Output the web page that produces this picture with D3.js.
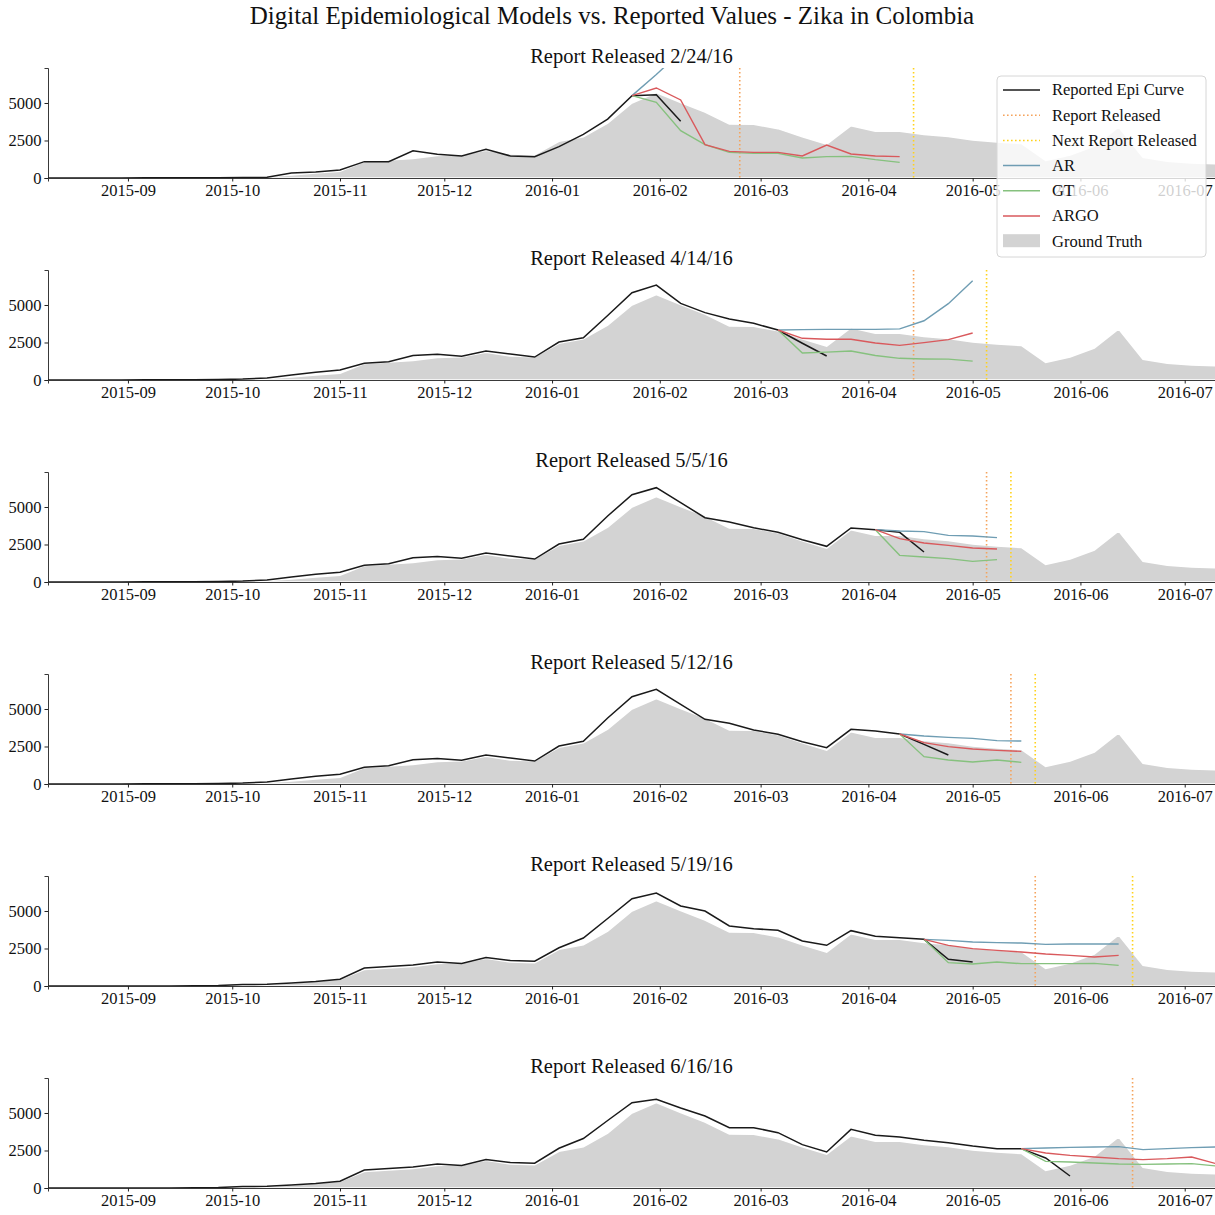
<!DOCTYPE html>
<html>
<head>
<meta charset="utf-8">
<script src="https://cdn.jsdelivr.net/npm/d3@7"></script>
<style>
  body { margin: 0; background: #fff; }
  svg { display: block; font-family: "Liberation Serif", "DejaVu Serif", serif; }
</style>
</head>
<body>
<svg id="chart" width="1215" height="1215"></svg>
<script>
// weekly series, first week starts 2015-08-09
const firstWeek = Date.UTC(2015, 7, 9);
const weekCount = 49;

const reportLabels = ["2/24/16", "4/14/16", "5/5/16", "5/12/16", "5/19/16", "6/16/16"];
const reportDates = ["2016-02-24", "2016-04-14", "2016-05-05", "2016-05-12", "2016-05-19", "2016-06-16"];
const nextReportDates = ["2016-04-14", "2016-05-05", "2016-05-12", "2016-05-19", "2016-06-16", null];

const groundTruth = [
  0, 0, 0, 0, 0, 0, 0, 20, 50, 100, 200, 330, 450, 1100, 1200, 1300, 1500, 1550, 1850, 1600,
  1550, 2450, 2750, 3650, 5000, 5700, 5030, 4400, 3600, 3580, 3290, 2750, 2250, 3490, 3120, 3120,
  2900, 2770, 2530, 2400, 2300, 1170, 1530, 2130, 3400, 1380, 1120, 1000, 950
];

// reported epi curve of each report, from week 0
const epiCurves = [
  [5, 5, 5, 5, 10, 10, 15, 20, 30, 50, 330, 400, 530, 1090, 1090, 1820, 1580, 1470, 1910, 1470,
   1420, 2090, 2910, 3930, 5490, 5555, 3780],
  [5, 5, 5, 5, 10, 10, 20, 30, 60, 130, 330, 510, 670, 1110, 1220, 1640, 1710, 1580, 1930, 1730,
   1530, 2530, 2820, 4300, 5820, 6330, 5110, 4490, 4066, 3777, 3333, 2450, 1600],
  [5, 5, 5, 5, 10, 10, 20, 30, 60, 130, 330, 510, 650, 1110, 1220, 1620, 1700, 1580, 1930, 1730,
   1530, 2530, 2850, 4400, 5822, 6289, 5289, 4289, 4000, 3622, 3311, 2822, 2378, 3600, 3489, 3311, 2000],
  [5, 5, 5, 5, 10, 10, 20, 30, 60, 130, 330, 510, 650, 1110, 1220, 1620, 1700, 1580, 1930, 1730,
   1530, 2530, 2850, 4400, 5822, 6311, 5311, 4311, 4044, 3600, 3311, 2822, 2422, 3644, 3533, 3333, 2644, 1933],
  [0, 0, 0, 0, 5, 5, 10, 30, 100, 110, 200, 300, 450, 1200, 1300, 1400, 1600, 1500, 1900, 1700,
   1650, 2550, 3200, 4500, 5822, 6200, 5333, 5000, 4000, 3822, 3711, 3000, 2711, 3689, 3311, 3222, 3111, 1778, 1600],
  [0, 0, 0, 0, 5, 5, 10, 30, 100, 110, 200, 300, 450, 1200, 1300, 1400, 1600, 1500, 1900, 1700,
   1650, 2650, 3300, 4500, 5689, 5911, 5333, 4800, 4022, 4022, 3689, 2889, 2400, 3911, 3511, 3400,
   3178, 3022, 2800, 2622, 2622, 2000, 800]
];

// model forecasts, each starts at its week index
const forecastStart = [24, 30, 34, 35, 36, 40];
const arForecasts = [
  [5490, 6900, 8400],
  [3333, 3360, 3378, 3378, 3378, 3410, 3950, 5090, 6620],
  [3489, 3400, 3355, 3111, 3066, 2955],
  [3333, 3200, 3111, 3044, 2889, 2866],
  [3111, 3044, 2933, 2889, 2866, 2778, 2800, 2800, 2800],
  [2622, 2667, 2711, 2733, 2755, 2555, 2622, 2689, 2733]
];
const gtForecasts = [
  [5490, 5044, 3155, 2222, 1711, 1644, 1644, 1333, 1422, 1444, 1222, 1044],
  [3333, 1800, 1855, 1930, 1630, 1445, 1400, 1390, 1255],
  [3489, 1778, 1667, 1555, 1378, 1489],
  [3333, 1822, 1600, 1466, 1600, 1444],
  [3111, 1555, 1466, 1600, 1489, 1489, 1489, 1511, 1378],
  [2622, 1778, 1733, 1667, 1600, 1578, 1600, 1622, 1467]
];
const argoForecasts = [
  [5490, 6000, 5200, 2222, 1778, 1711, 1711, 1467, 2200, 1600, 1467, 1422],
  [3333, 2780, 2720, 2720, 2470, 2310, 2490, 2690, 3130],
  [3489, 2889, 2600, 2444, 2266, 2200],
  [3333, 2755, 2489, 2333, 2244, 2178],
  [3111, 2711, 2489, 2378, 2266, 2133, 2044, 1933, 2044],
  [2622, 2333, 2178, 2067, 1955, 1889, 1955, 2067, 1622]
];

const yTicks = [0, 2500, 5000];
const yMax = 7333;

const colors = {
  epi: "#1a1a1a",
  report: "#f5a35c",
  next: "#ffd21a",
  ar: "#6f9db3",
  gt: "#86c17e",
  argo: "#d9595c",
  truth: "#d3d3d3"
};

const svg = d3.select("#chart");
const left = 48, right = 1216;
const panelH = 110, panelStep = 202, firstTop = 68;

const weekDate = i => new Date(firstWeek + i * 7 * 86400000);
const parseDay = d3.utcParse("%Y-%m-%d");

const x = d3.scaleUtc()
  .domain([weekDate(0), weekDate(weekCount - 1)])
  .range([left, right]);

svg.append("text")
  .attr("x", 612)
  .attr("y", 24)
  .attr("text-anchor", "middle")
  .style("font-size", "25px")
  .style("fill", "#111")
  .text("Digital Epidemiological Models vs. Reported Values - Zika in Colombia");

svg.append("defs").append("clipPath")
  .attr("id", "clip")
  .append("rect")
  .attr("x", left).attr("y", 0)
  .attr("width", right - left).attr("height", panelH);

reportLabels.forEach((label, k) => {
  const top = firstTop + k * panelStep;
  const g = svg.append("g").attr("transform", `translate(0,${top})`);

  const y = d3.scaleLinear().domain([0, yMax]).range([panelH, 0]);

  const plot = g.append("g").attr("clip-path", "url(#clip)");

  const area = d3.area()
    .x((d, i) => x(weekDate(i)))
    .y0(panelH)
    .y1(d => y(d));

  plot.append("path")
    .datum(groundTruth)
    .attr("fill", colors.truth)
    .attr("stroke", "#fff")
    .attr("stroke-width", 1.5)
    .attr("d", area);

  const line = offset => d3.line()
    .x((d, i) => x(weekDate(i + offset)))
    .y(d => y(d));

  plot.append("path")
    .datum(epiCurves[k])
    .attr("fill", "none")
    .attr("stroke", colors.epi)
    .attr("stroke-width", 1.5)
    .attr("d", line(0));

  const vline = (date, color) => {
    const xv = x(parseDay(date));
    plot.append("line")
      .attr("x1", xv).attr("x2", xv)
      .attr("y1", 0).attr("y2", panelH)
      .attr("stroke", color)
      .attr("stroke-width", 1.6)
      .attr("stroke-dasharray", "1.6,2.4");
  };
  vline(reportDates[k], colors.report);
  if (nextReportDates[k]) vline(nextReportDates[k], colors.next);

  [[arForecasts, colors.ar], [gtForecasts, colors.gt], [argoForecasts, colors.argo]].forEach(([set, color]) => {
    plot.append("path")
      .datum(set[k])
      .attr("fill", "none")
      .attr("stroke", color)
      .attr("stroke-width", 1.4)
      .attr("d", line(forecastStart[k]));
  });

  // axes
  const xAxis = g.append("g")
    .attr("transform", `translate(0,${panelH})`)
    .call(d3.axisBottom(x)
      .ticks(d3.utcMonth.every(1))
      .tickFormat(d3.utcFormat("%Y-%m"))
      .tickSizeOuter(0)
      .tickSize(3.5)
      .tickPadding(3));
  xAxis.select(".domain").attr("stroke", "#222").attr("stroke-width", 0.9);

  const yAxis = g.append("g")
    .attr("transform", `translate(${left},0)`)
    .call(d3.axisLeft(y)
      .tickValues(yTicks)
      .tickFormat(d3.format("d"))
      .tickSizeOuter(0)
      .tickSize(3.5)
      .tickPadding(3));
  yAxis.select(".domain").attr("stroke", "#222").attr("stroke-width", 0.9);

  g.selectAll(".tick line").attr("stroke", "#222");
  g.selectAll(".tick text")
    .style("font-family", "'Liberation Serif', serif")
    .style("font-size", "16.5px")
    .style("fill", "#111");

  g.append("text")
    .attr("x", (left + 1215) / 2)
    .attr("y", -5)
    .attr("text-anchor", "middle")
    .style("font-size", "20.5px")
    .style("fill", "#111")
    .text("Report Released " + label);
});

// legend, on top of first panel
const legendItems = [
  { label: "Reported Epi Curve", color: colors.epi, kind: "line" },
  { label: "Report Released", color: colors.report, kind: "dot" },
  { label: "Next Report Released", color: colors.next, kind: "dot" },
  { label: "AR", color: colors.ar, kind: "line" },
  { label: "GT", color: colors.gt, kind: "line" },
  { label: "ARGO", color: colors.argo, kind: "line" },
  { label: "Ground Truth", color: colors.truth, kind: "patch" }
];

const legend = svg.append("g").attr("transform", "translate(997,76)");
legend.append("rect")
  .attr("width", 209).attr("height", 181)
  .attr("rx", 4)
  .attr("fill", "rgba(255,255,255,0.8)")
  .attr("stroke", "#d6d6d6");

legendItems.forEach((item, i) => {
  const cy = 14 + i * 25.2;
  if (item.kind === "patch") {
    legend.append("rect")
      .attr("x", 6).attr("y", cy - 7)
      .attr("width", 37).attr("height", 13)
      .attr("fill", item.color);
  } else {
    legend.append("line")
      .attr("x1", 6).attr("x2", 43)
      .attr("y1", cy).attr("y2", cy)
      .attr("stroke", item.color)
      .attr("stroke-width", 1.5)
      .attr("stroke-dasharray", item.kind === "dot" ? "1.6,2.4" : null);
  }
  legend.append("text")
    .attr("x", 55).attr("y", cy)
    .attr("dy", "0.33em")
    .style("font-size", "16.5px")
    .style("fill", "#111")
    .text(item.label);
});
</script>
</body>
</html>
